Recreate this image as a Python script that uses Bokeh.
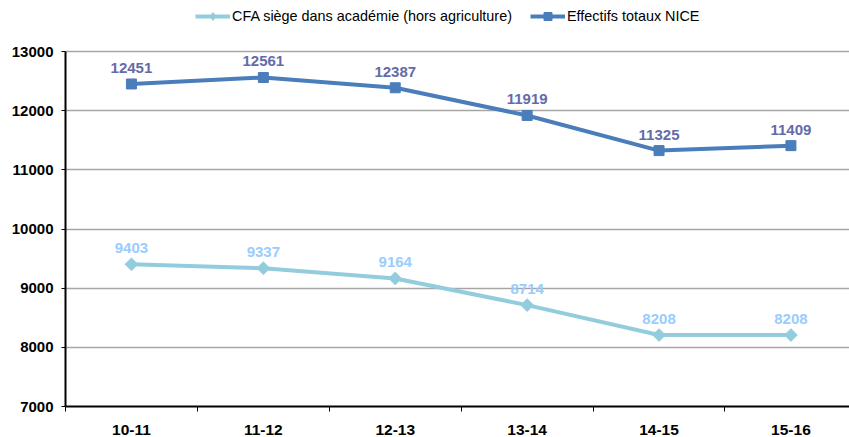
import math
from bokeh.plotting import figure
from bokeh.models import FixedTicker, Legend, LegendItem, ColumnDataSource, Range1d
from bokeh.core.properties import value
from bokeh.embed import file_html
from bokeh.resources import INLINE

categories = ["10-11", "11-12", "12-13", "13-14", "14-15", "15-16"]
cfa_values = [9403, 9337, 9164, 8714, 8208, 8208]
nice_values = [12451, 12561, 12387, 11919, 11325, 11409]
y_ticks = [7000, 8000, 9000, 10000, 11000, 12000, 13000]

xs = [i + 0.5 for i in range(len(categories))]

FONT = "Liberation Sans"

# frame spans the full height above the x axis; 13000 sits 51px below the top
y_top = 13000 + 51 * 6000 / 355

p = figure(width=849, height=437, output_backend="svg", toolbar_location=None,
           x_range=Range1d(0, 5.944), y_range=Range1d(7000, y_top),
           min_border_left=65, min_border_right=0, min_border_top=0, min_border_bottom=31)
p.outline_line_color = None
p.background_fill_color = "white"

# grid
p.xgrid.visible = False
p.ygrid.grid_line_color = "#a6a6a6"
p.ygrid.grid_line_width = 1.5

# y axis
p.yaxis.ticker = FixedTicker(ticks=y_ticks, minor_ticks=[])
p.yaxis.bounds = (7000, 13000)
p.yaxis.axis_line_color = "black"
p.yaxis.axis_line_width = 2
p.yaxis.major_tick_out = 4
p.yaxis.major_tick_in = 0
p.yaxis.major_tick_line_color = "black"
p.yaxis.major_label_text_font = FONT
p.yaxis.major_label_text_font_style = "bold"
p.yaxis.major_label_text_font_size = "15px"
p.yaxis.major_label_text_color = "black"
p.yaxis.major_label_standoff = 8

# x axis
p.xaxis.ticker = FixedTicker(ticks=xs, minor_ticks=list(range(len(categories) + 1)))
p.xaxis.major_label_overrides = {x: c for x, c in zip(xs, categories)}
p.xaxis.axis_line_color = "black"
p.xaxis.axis_line_width = 2
p.xaxis.major_tick_out = 0
p.xaxis.major_tick_in = 0
p.xaxis.minor_tick_out = 5
p.xaxis.minor_tick_in = 0
p.xaxis.minor_tick_line_color = "black"
p.xaxis.major_label_text_font = FONT
p.xaxis.major_label_text_font_style = "bold"
p.xaxis.major_label_text_font_size = "15.5px"
p.xaxis.major_label_text_color = "black"
p.xaxis.major_label_standoff = 13

src = ColumnDataSource(dict(x=xs, cfa=cfa_values, nice=nice_values,
                            cfa_lbl=[str(v) for v in cfa_values],
                            nice_lbl=[str(v) for v in nice_values]))

cfa_color = "#93CDDD"
nice_color = "#4A7EBB"

l1 = p.line("x", "cfa", source=src, line_color=cfa_color, line_width=4)
m1 = p.scatter("x", "cfa", source=src, marker="square", size=9, angle=math.pi / 4,
               fill_color=cfa_color, line_color=cfa_color)
# legend-only diamond swatch (a NaN point, never drawn in the plot)
m1_leg = p.scatter(x=[float("nan")], y=[float("nan")], marker="diamond", size=13,
                   fill_color=cfa_color, line_color=cfa_color)
l2 = p.line("x", "nice", source=src, line_color=nice_color, line_width=4)
m2 = p.scatter("x", "nice", source=src, marker="square", size=10,
               fill_color=nice_color, line_color=nice_color)

p.text("x", "cfa", text="cfa_lbl", source=src, text_align="center",
       text_baseline="alphabetic", y_offset=-16, text_color="#99CCFF",
       text_font=value(FONT), text_font_style="bold", text_font_size="15px")
p.text("x", "nice", text="nice_lbl", source=src, text_align="center",
       text_baseline="alphabetic", y_offset=-16, text_color="#646BA8",
       text_font=value(FONT), text_font_style="bold", text_font_size="15px")

legend = Legend(items=[
    LegendItem(label="CFA siège dans académie (hors agriculture)", renderers=[l1, m1_leg]),
    LegendItem(label="Effectifs totaux NICE", renderers=[l2, m2]),
], orientation="horizontal", location=(130, 380))
legend.border_line_color = None
legend.background_fill_alpha = 0
legend.padding = 0
legend.margin = 0
legend.spacing = 18
legend.glyph_width = 35
legend.label_standoff = 2
legend.label_text_font = FONT
legend.label_text_font_size = "14.4px"
legend.label_text_color = "black"
p.add_layout(legend, "center")

open("out.html", "w").write(file_html(p, INLINE))
